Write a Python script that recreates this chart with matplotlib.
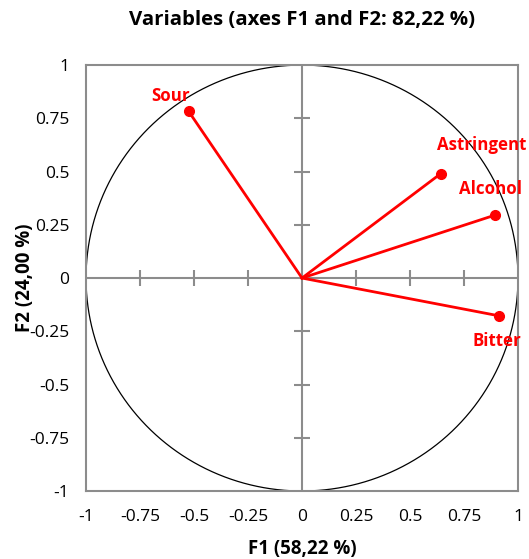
import numpy as np
import matplotlib
matplotlib.use("Agg")
import matplotlib.pyplot as plt

variables = ["Sour", "Astringent", "Alcohol", "Bitter"]
f1 = [-0.525, 0.642, 0.895, 0.91]
f2 = [0.783, 0.49, 0.296, -0.177]
ticks = [-1, -0.75, -0.5, -0.25, 0, 0.25, 0.5, 0.75, 1]
tick_labels = ["-1", "-0.75", "-0.5", "-0.25", "0", "0.25", "0.5", "0.75", "1"]
# label offsets in pixels relative to the point (label centre)
label_offsets = {"Sour": (-18, 15),
                 "Astringent": (41, 29),
                 "Alcohol": (-5, 26),
                 "Bitter": (-2, -25)}

plt.rcParams['font.family'] = ['Open Sans', 'DejaVu Sans']
gray = "#8c8c8c"
red = "#ff0000"

fig = plt.figure(figsize=(5.29, 5.59), dpi=100)
ax = fig.add_axes([0.1626, 0.1216, 0.8166, 0.762])
ax.set_xlim(-1, 1)
ax.set_ylim(-1, 1)

for s in ax.spines.values():
    s.set_color(gray)
    s.set_linewidth(1.5)

ax.axhline(0, color=gray, lw=1.5, zorder=1)
ax.axvline(0, color=gray, lw=1.5, zorder=1)
inner = [t for t in ticks if abs(t) not in (0, 1)]
ax.plot(inner, [0] * len(inner), linestyle="none", marker="|", markersize=12,
        markeredgewidth=1.5, color=gray, zorder=1)
ax.plot([0] * len(inner), inner, linestyle="none", marker="_", markersize=12,
        markeredgewidth=1.5, color=gray, zorder=1)

theta = np.linspace(0, 2 * np.pi, 400)
ax.plot(np.cos(theta), np.sin(theta), color="black", lw=0.9, zorder=2)

for name, x, y in zip(variables, f1, f2):
    ax.plot([0, x], [0, y], color=red, lw=2, zorder=3)
    ax.plot(x, y, "o", color=red, markersize=7, zorder=4)
    dx, dy = label_offsets[name]
    ax.annotate(name, (x, y), xytext=(dx, dy), textcoords="offset pixels",
                ha="center", va="center", color=red, fontsize=12.2,
                fontweight="bold", zorder=5)

ax.set_xticks(ticks)
ax.set_xticklabels(tick_labels)
ax.set_yticks(ticks)
ax.set_yticklabels(tick_labels)
ax.tick_params(length=0, labelsize=12.5)
ax.tick_params(axis="x", pad=13)
ax.tick_params(axis="y", pad=12)

ax.set_xlabel("F1 (58,22 %)", fontsize=13.5, fontweight="bold", labelpad=10)
ax.set_ylabel("F2 (24,00 %)", fontsize=13.5, fontweight="bold", labelpad=-4)
ax.set_title("Variables (axes F1 and F2: 82,22 %)", fontsize=14.7,
             fontweight="bold", pad=29)

fig.savefig("out.png", dpi=100)
